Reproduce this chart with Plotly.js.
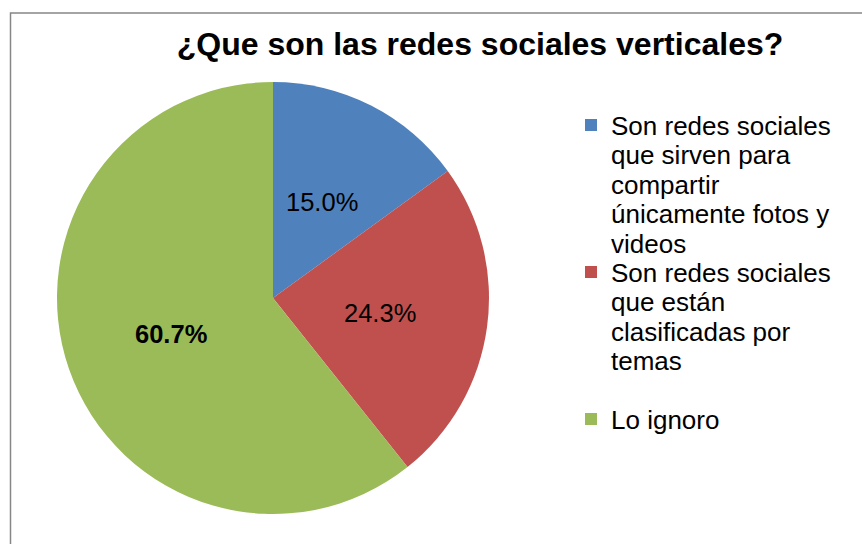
<!DOCTYPE html>
<html>
<head>
<meta charset="utf-8">
<script src="https://cdn.plot.ly/plotly-3.0.1.min.js"></script>
<style>html,body{margin:0;padding:0;background:#fff;}#chart{width:862px;height:544px;}</style>
</head>
<body>
<div id="chart"></div>
<script>
const titleText = "¿Que son las redes sociales verticales?";
const categories = [
  "Son redes sociales<br>que sirven para<br>compartir<br>únicamente fotos y<br>videos",
  "Son redes sociales<br>que están<br>clasificadas por<br>temas",
  "Lo ignoro"
];
const values = [15.0, 24.3, 60.7];
const colors = ["#4F81BD", "#C0504D", "#9BBB59"];
const labelBold = [false, false, true];

const W = 862, H = 544;
const FONT = "Liberation Sans, Arial, sans-serif";
// pie geometry (pixels)
const pieLeft = 57, pieRight = 489, pieTop = 82, pieBottom = 514;
const cxPx = (pieLeft + pieRight) / 2, cyPx = (pieTop + pieBottom) / 2;
const R = (pieRight - pieLeft) / 2;
const labelRadiusFrac = 0.5;

// percentage labels centred in each slice (Excel "center" placement), derived from the data
const total = values.reduce((a, b) => a + b, 0);
let cum = 0;
const annotations = values.map((v, i) => {
  const mid = (cum + v / 2) / total * 2 * Math.PI;
  cum += v;
  const px = cxPx + labelRadiusFrac * R * Math.sin(mid);
  const py = cyPx - labelRadiusFrac * R * Math.cos(mid);
  const pct = (v / total * 100).toFixed(1) + "%";
  return {
    xref: "paper", yref: "paper",
    x: px / W, y: 1 - py / H,
    xanchor: "center", yanchor: "middle",
    showarrow: false,
    text: labelBold[i] ? "<b>" + pct + "</b>" : pct,
    font: {family: FONT, size: 25.5, color: "#000"}
  };
});

const trace = {
  type: "pie",
  labels: categories,
  values: values,
  sort: false,
  direction: "clockwise",
  rotation: 0,
  marker: {colors: colors, line: {width: 0}},
  textinfo: "none",
  hoverinfo: "label+percent",
  domain: {x: [pieLeft / W, pieRight / W], y: [1 - pieBottom / H, 1 - pieTop / H]}
};

const legendFontSize = 26;
const layout = {
  width: W, height: H,
  margin: {l: 0, r: 0, t: 0, b: 0},
  paper_bgcolor: "#fff",
  showlegend: true,
  font: {family: FONT, color: "#000"},
  title: {
    text: "<b>" + titleText + "</b>",
    font: {family: FONT, size: 32, color: "#000"},
    x: 480 / W, xanchor: "center",
    y: 1 - 44 / H, yanchor: "middle"
  },
  legend: {
    x: 571 / W, xanchor: "left",
    y: 1 - 101.5 / H, yanchor: "top",
    valign: "top",
    font: {family: FONT, size: legendFontSize, color: "#000"},
    bgcolor: "rgba(0,0,0,0)",
    traceorder: "normal"
  },
  annotations: annotations,
  shapes: [{
    type: "rect", xref: "paper", yref: "paper",
    x0: 10.5 / W, x1: 1.05, y0: -0.05, y1: 1 - 13 / H,
    line: {color: "#868686", width: 1.5}, fillcolor: "rgba(0,0,0,0)", layer: "below"
  }]
};

// Excel-like legend line spacing (tighter than Plotly's 1.3em)
const legendLineSpacingPx = 29.4;
const legendSlots = [5, 5, 1]; // line slots each entry occupies (2nd entry followed by a gap)
function tightenLegend(gd) {
  const items = Array.from(gd.querySelectorAll(".legend .traces"));
  const em = legendLineSpacingPx / legendFontSize;
  let base = null, slots = 0;
  items.forEach((g, k) => {
    const text = g.querySelector("text.legendtext");
    if (!text) return;
    text.querySelectorAll("tspan.line").forEach((t, j) => t.setAttribute("dy", (j * em) + "em"));
    const m = /translate\(\s*([-\d.e]+)[\s,]+([-\d.e]+)\s*\)/.exec(g.getAttribute("transform") || "");
    const tx = m ? parseFloat(m[1]) : 0, ty = m ? parseFloat(m[2]) : 0;
    const textY = parseFloat(text.getAttribute("y")) || 0;
    if (k === 0) base = ty + textY;
    else g.setAttribute("transform", "translate(" + tx + "," + (base + slots * legendLineSpacingPx - textY) + ")");
    slots += legendSlots[k] || 1;
  });
}

const gd = document.getElementById("chart");
Plotly.newPlot(gd, [trace], layout, {displayModeBar: false, staticPlot: true}).then(() => tightenLegend(gd));
</script>
</body>
</html>
